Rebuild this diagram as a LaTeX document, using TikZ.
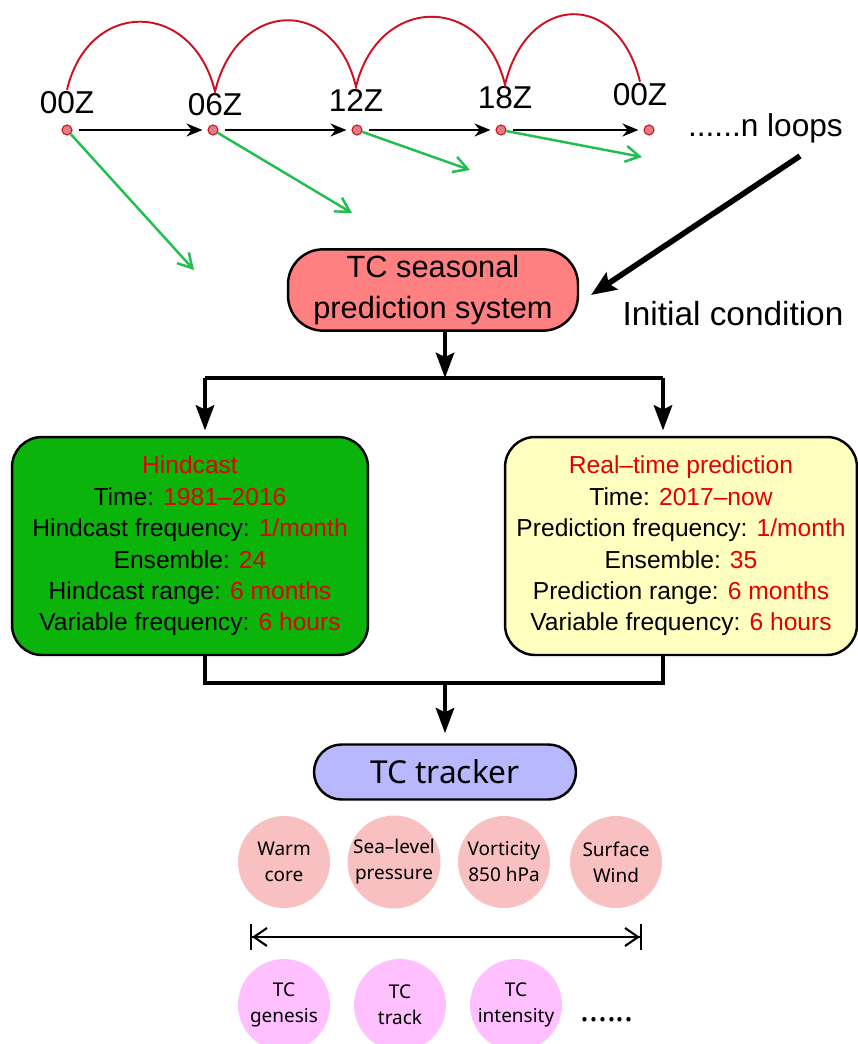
\documentclass[tikz,border=0pt]{standalone}
\usepackage{fontspec}
\setmainfont{Liberation Sans}
\newfontfamily\roundfont{Noto Sans}
\usetikzlibrary{arrows.meta}
\definecolor{arcred}{RGB}{208,16,32}
\definecolor{hotred}{RGB}{226,0,0}
\definecolor{leadgreen}{RGB}{34,190,80}
\definecolor{sysfill}{RGB}{255,128,128}
\definecolor{hindfill}{RGB}{10,180,10}
\definecolor{realfill}{RGB}{255,255,192}
\definecolor{trackfill}{RGB}{184,184,255}
\definecolor{varfill}{RGB}{248,192,192}
\definecolor{outfill}{RGB}{255,192,255}
\newcommand{\hl}[1]{\textcolor{hotred}{#1}}

\begin{document}
\begin{tikzpicture}[x=0.02cm,y=-0.02cm,
    dot/.style={circle,draw=arcred,fill=arcred!55,inner sep=0pt,minimum size=0.2cm,line width=0.6pt},
    hour/.style={inner sep=1pt,font=\fontsize{18}{20}\selectfont},
    run/.style={-{Stealth[length=0.32cm,width=0.26cm]},line width=1.4pt,shorten <=0.12cm,shorten >=0.1cm},
    lead/.style={-{Straight Barb[length=0.28cm,width=0.32cm]},leadgreen,line width=1.4pt},
    flow/.style={line width=2.8pt},
    flowhead/.style={-{Stealth[length=0.5cm,width=0.36cm,inset=0.08cm]}},
    infobox/.style={draw,line width=1.4pt,rounded corners=0.6cm,minimum height=4.36cm,align=center,
      font=\fontsize{14}{17.9}\selectfont},
    var/.style={circle,minimum size=1.84cm,inner sep=0pt,align=center,font=\roundfont\fontsize{10.8}{14.8}\selectfont}]
\useasboundingbox (0,0) rectangle (858,1044);
\clip (0,0) rectangle (858,1044);

\node[dot] (d0) at (67,130) {};
\node[dot] (d1) at (213,130) {};
\node[dot] (d2) at (357,130) {};
\node[dot] (d3) at (501,130) {};
\node[dot] (d4) at (649,130) {};
\node[hour] (t0) at (67,103) {00Z};
\node[hour] (t1) at (215,105) {06Z};
\node[hour] (t2) at (356,100) {12Z};
\node[hour] (t3) at (505,98) {18Z};
\node[hour] (t4) at (640,95) {00Z};
\node[hour,anchor=west] (loops) at (686,128) {......n loops};

\draw[arcred,line width=1.1pt] (t0.north) .. controls +(22,-92) and +(-22,-92) .. (t1.north)
  .. controls +(22,-92) and +(-22,-92) .. (t2.north)
  .. controls +(22,-92) and +(-22,-92) .. (t3.north)
  .. controls +(22,-92) and +(-22,-92) .. (t4.north);

\draw[run] (d0) -- (d1);
\draw[run] (d1) -- (d2);
\draw[run] (d2) -- (d3);
\draw[run] (d3) -- (d4);

\coordinate (g0) at (194,270);
\coordinate (g1) at (352,213);
\coordinate (g2) at (470,170);
\coordinate (g3) at (642,157);
\draw[lead] (d0) -- (g0);
\draw[lead] (d1) -- (g1);
\draw[lead] (d2) -- (g2);
\draw[lead] (d3) -- (g3);

\node[draw,fill=sysfill,line width=1.4pt,rounded corners=0.7cm,minimum width=5.8cm,minimum height=1.6cm,
  align=center,font=\fontsize{17.5}{23.3}\selectfont] (sys) at (433,290) {TC seasonal\\prediction system};
\node[font=\fontsize{19}{22}\selectfont] (init) at (733,314) {Initial condition};
\coordinate (ic) at (800,156);
\coordinate (ie) at (591,295);
\draw[line width=3.2pt,-{Stealth[length=0.5cm,width=0.4cm,inset=0.08cm]}] (ic) -- (ie);

\node[infobox,fill=hindfill,minimum width=7.12cm] (hind) at (190,546)
  {\hl{Hindcast}\\
   Time: \hl{1981–2016}\\
   Hindcast frequency: \hl{1/month}\\
   Ensemble: \hl{24}\\
   Hindcast range: \hl{6 months}\\
   Variable frequency: \hl{6 hours}};
\node[infobox,fill=realfill,minimum width=7.04cm] (real) at (681,546)
  {\hl{Real–time prediction}\\
   Time: \hl{2017–now}\\
   Prediction frequency: \hl{1/month}\\
   Ensemble: \hl{35}\\
   Prediction range: \hl{6 months}\\
   Variable frequency: \hl{6 hours}};

\coordinate (split) at (445,378);
\coordinate (lsplit) at (205,378);
\coordinate (rsplit) at (663,378);
\draw[flow,flowhead] (sys.south -| split) -- (split);
\draw[flow] (lsplit) -- (rsplit);
\draw[flow,flowhead,shorten >=3pt] (lsplit) -- (hind.north -| lsplit);
\draw[flow,flowhead,shorten >=3pt] (rsplit) -- (real.north -| rsplit);

\node[draw,fill=trackfill,line width=1.4pt,rounded corners=0.55cm,minimum width=5.24cm,minimum height=1.1cm,
  font=\roundfont\fontsize{18}{20}\selectfont] (track) at (445,772) {TC tracker};
\coordinate (merge) at (445,683);
\coordinate (lmerge) at (205,683);
\coordinate (rmerge) at (663,683);
\draw[flow] (hind.south -| lmerge) -- (lmerge) -- (rmerge) -- (real.south -| rmerge);
\draw[flow,flowhead,shorten >=0.2cm] (merge) -- (track.north);

\node[var,fill=varfill] (v0) at (284,862) {Warm\\core};
\node[var,fill=varfill] (v1) at (394,862) {Sea–level\\pressure};
\node[var,fill=varfill] (v2) at (504,862) {Vorticity\\850 hPa};
\node[var,fill=varfill] (v3) at (616,862) {Surface\\Wind};

\coordinate (bl) at (250,937);
\coordinate (br) at (642,937);
\draw[line width=1.2pt,{Bar[width=0.52cm]Straight Barb[length=0.26cm,width=0.36cm]}-{Straight Barb[length=0.26cm,width=0.36cm]Bar[width=0.52cm]}] (bl) -- (br);

\node[var,fill=outfill] (o0) at (284,1005) {TC\\genesis};
\node[var,fill=outfill] (o1) at (400,1005) {TC\\track};
\node[var,fill=outfill] (o2) at (516,1005) {TC\\intensity};
\node[font=\roundfont\fontsize{19}{20}\selectfont] (more) at (607,1020) {......};
\end{tikzpicture}
\end{document}
